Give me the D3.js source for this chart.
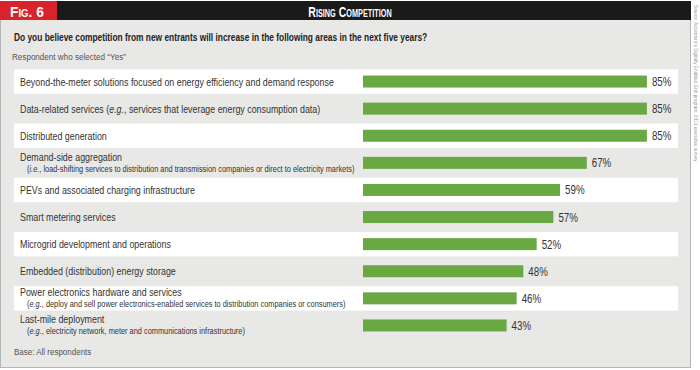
<!DOCTYPE html>
<html>
<head>
<meta charset="utf-8">
<script src="https://cdn.jsdelivr.net/npm/d3@7"></script>
<style>
  body { margin: 0; background: #fff; }
  text { font-family: "Liberation Sans", Arial, sans-serif; }
</style>
</head>
<body>
<script>
// chart data
var categories = [
  "Beyond-the-meter solutions focused on energy efficiency and demand response",
  "Data-related services (e.g., services that leverage energy consumption data)",
  "Distributed generation",
  "Demand-side aggregation",
  "PEVs and associated charging infrastructure",
  "Smart metering services",
  "Microgrid development and operations",
  "Embedded (distribution) energy storage",
  "Power electronics hardware and services",
  "Last-mile deployment"
]
var notes = [
  "", "", "",
  "(i.e., load-shifting services to distribution and transmission companies or direct to electricity markets)",
  "", "", "", "",
  "(e.g., deploy and sell power electronics-enabled services to distribution companies or consumers)",
  "(e.g., electricity network, meter and communications infrastructure)"
]
var values = [85, 85, 85, 67, 59, 57, 52, 48, 46, 43]

// narrow text: no condensed font, so squeeze Liberation Sans sideways
function place(x, y, sx) {
  return "translate(" + x + "," + y + ") scale(" + sx + ",1)"
}

var svg = d3.select("body").append("svg")
  .attr("width", 700)
  .attr("height", 370)

// panel
svg.append("rect")
  .attr("x", 0.5).attr("y", 1.5)
  .attr("width", 690).attr("height", 366)
  .attr("fill", "#e8e8e6")
  .attr("stroke", "#b5b5b5")

// title bar
svg.append("rect")
  .attr("x", 0).attr("y", 1)
  .attr("width", 691).attr("height", 19)
  .attr("fill", "#1a1a1a")
svg.append("rect")
  .attr("x", 0).attr("y", 1)
  .attr("width", 57).attr("height", 19)
  .attr("fill", "#d8232a")

svg.append("text")
  .attr("transform", place(10, 17, 0.92))
  .attr("fill", "#fff")
  .style("font-weight", "bold")
  .style("font-size", "15px")
  .style("font-variant", "small-caps")
  .text("Fig. 6")

svg.append("text")
  .attr("transform", place(350, 17, 0.7))
  .attr("text-anchor", "middle")
  .attr("fill", "#fff")
  .style("font-weight", "bold")
  .style("font-size", "15px")
  .style("font-variant", "small-caps")
  .text("Rising Competition")

svg.append("text")
  .attr("transform", place(14, 41, 0.727))
  .attr("fill", "#222")
  .style("font-weight", "bold")
  .style("font-size", "11.5px")
  .text("Do you believe competition from new entrants will increase in the following areas in the next five years?")

svg.append("text")
  .attr("transform", place(12, 60, 0.9))
  .attr("fill", "#555")
  .style("font-size", "9px")
  .text("Respondent who selected \u201cYes\u201d")

svg.append("text")
  .attr("transform", place(14, 355, 0.89))
  .attr("fill", "#555")
  .style("font-size", "9px")
  .text("Base: All respondents")

// source, vertical
svg.append("text")
  .attr("transform", "translate(694,5) rotate(90) scale(0.86,1)")
  .attr("fill", "#999")
  .style("font-size", "5.5px")
  .text("Source: Accenture's Digitally Enabled Grid program, 2013 executive survey")

var y = d3.scaleBand()
  .domain(categories)
  .range([68, 339])
  .paddingInner(0.1)
  .paddingOuter(0.05)

var x = d3.scaleLinear()
  .domain([0, 100])
  .range([363, 697])

var row = svg.selectAll("g.row")
  .data(categories)
  .enter()
  .append("g")
  .classed("row", true)

row.filter(function(d, i){ return i % 2 == 0 })
  .append("rect")
  .attr("x", 14)
  .attr("y", function(d){ return y(d) })
  .attr("width", 664)
  .attr("height", y.bandwidth())
  .attr("fill", "#fff")

row.append("text")
  .attr("transform", function(d, i){
    var c = y(d) + y.bandwidth() / 2
    return place(20, notes[i] ? c - 2 : c + 4, 0.807)
  })
  .attr("fill", "#333")
  .style("font-size", "11px")
  .each(function(d){
    var t = d3.select(this)
    var m = d.match(/^(.*\()(e\.g\.)(.*)$/)
    if (m) {
      t.append("tspan").text(m[1])
      t.append("tspan").style("font-style", "italic").text(m[2])
      t.append("tspan").text(m[3])
    } else {
      t.text(d)
    }
  })

// notes: squeezed further when they would run into the bars
row.filter(function(d, i){ return notes[i] })
  .append("text")
  .attr("fill", "#333")
  .style("font-size", "8.5px")
  .each(function(d){
    var n = notes[categories.indexOf(d)]
    var m = n.match(/^\((i\.e\.|e\.g\.)(.*)$/)
    var t = d3.select(this)
    t.append("tspan").text("(")
    t.append("tspan").style("font-style", "italic").text(m[1])
    t.append("tspan").text(m[2])
    var sx = Math.min(0.87, (x(0) - 6 - 27) / this.getComputedTextLength())
    t.attr("transform", place(27, y(d) + y.bandwidth() / 2 + 9, sx))
  })

svg.selectAll("rect.bar")
  .data(values)
  .enter()
  .append("rect")
  .classed("bar", true)
  .attr("x", x(0))
  .attr("y", function(d, i){ return y(categories[i]) + y.bandwidth() / 2 - 6 })
  .attr("width", function(d){ return x(d) - x(0) })
  .attr("height", 12)
  .attr("fill", "#69a842")

svg.selectAll("text.value")
  .data(values)
  .enter()
  .append("text")
  .classed("value", true)
  .attr("transform", function(d, i){
    return place(x(d) + 5, y(categories[i]) + y.bandwidth() / 2 + 4.5, 0.78)
  })
  .attr("fill", "#333")
  .style("font-size", "12.5px")
  .text(function(d){ return d + "%" })
</script>
</body>
</html>
